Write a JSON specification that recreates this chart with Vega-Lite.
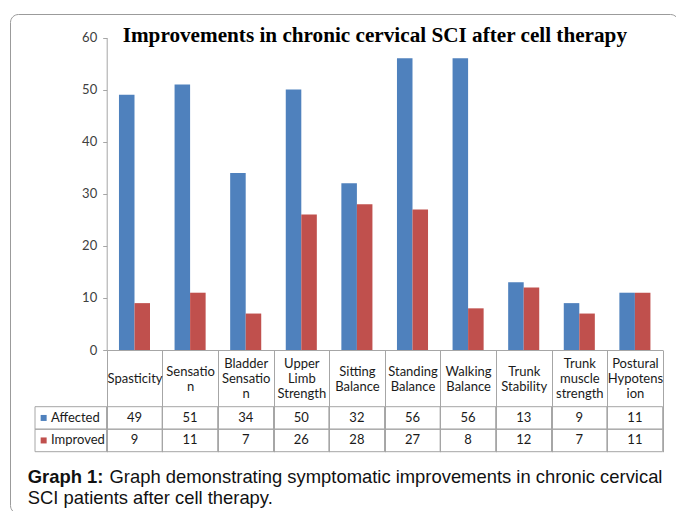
{
  "$schema": "https://vega.github.io/schema/vega-lite/v6.json",
  "width": 668,
  "height": 499,
  "autosize": "none",
  "padding": {"left": 10, "top": 14, "right": -2, "bottom": -2},
  "background": "white",
  "title": {
    "text": "Improvements in chronic cervical SCI after cell therapy",
    "anchor": "start",
    "frame": "group",
    "dx": 112.7,
    "offset": -49.5,
    "font": "Liberation Serif",
    "fontSize": 21.2,
    "fontWeight": "bold",
    "color": "#000000",
    "baseline": "alphabetic"
  },
  "datasets": {
    "bars": [
      {"category": "Spasticity", "series": "Affected", "value": 49},
      {"category": "Spasticity", "series": "Improved", "value": 9},
      {"category": "Sensation", "series": "Affected", "value": 51},
      {"category": "Sensation", "series": "Improved", "value": 11},
      {"category": "Bladder Sensation", "series": "Affected", "value": 34},
      {"category": "Bladder Sensation", "series": "Improved", "value": 7},
      {"category": "Upper Limb Strength", "series": "Affected", "value": 50},
      {"category": "Upper Limb Strength", "series": "Improved", "value": 26},
      {"category": "Sitting Balance", "series": "Affected", "value": 32},
      {"category": "Sitting Balance", "series": "Improved", "value": 28},
      {"category": "Standing Balance", "series": "Affected", "value": 56},
      {"category": "Standing Balance", "series": "Improved", "value": 27},
      {"category": "Walking Balance", "series": "Affected", "value": 56},
      {"category": "Walking Balance", "series": "Improved", "value": 8},
      {"category": "Trunk Stability", "series": "Affected", "value": 13},
      {"category": "Trunk Stability", "series": "Improved", "value": 12},
      {"category": "Trunk muscle strength", "series": "Affected", "value": 9},
      {"category": "Trunk muscle strength", "series": "Improved", "value": 7},
      {"category": "Postural Hypotension", "series": "Affected", "value": 11},
      {"category": "Postural Hypotension", "series": "Improved", "value": 11}
    ],
    "legendRows": [
      {"series": "Affected"},
      {"series": "Improved"}
    ]
  },
  "data": {"name": "bars"},
  "resolve": {"scale": {"x": "independent", "y": "independent"}},
  "config": {
    "view": {"stroke": "#9b9b9b", "strokeWidth": 1, "cornerRadius": 8},
    "axis": {"grid": false}
  },
  "layer": [
    {
      "mark": {"type": "bar"},
      "encoding": {
        "x": {
          "field": "category", "type": "nominal",
          "scale": {"domain": ["Spasticity", "Sensation", "Bladder Sensation", "Upper Limb Strength", "Sitting Balance", "Standing Balance", "Walking Balance", "Trunk Stability", "Trunk muscle strength", "Postural Hypotension"], "range": [96.7, 652.7], "paddingInner": 0, "paddingOuter": 0},
          "axis": {
            "orient": "bottom", "offset": -163,
            "domainColor": "#a6a6a6", "tickColor": "#a6a6a6",
            "tickBand": "extent", "tickSize": 101.7,
            "labelExpr": "datum.value == null ? '' : datum.value == 'Sensation' ? ['Sensatio','n'] : datum.value == 'Bladder Sensation' ? ['Bladder','Sensatio','n'] : datum.value == 'Postural Hypotension' ? ['Postural','Hypotens','ion'] : split(datum.value, ' ')",
            "labelAngle": 0, "labelBaseline": "middle",
            "labelPadding": {
              "condition": [
                {"test": "indexof(['Bladder Sensation','Upper Limb Strength','Trunk muscle strength','Postural Hypotension'], datum.value) >= 0", "value": -88.2},
                {"test": "indexof(['Sensation','Sitting Balance','Standing Balance','Walking Balance','Trunk Stability'], datum.value) >= 0", "value": -80.7}
              ],
              "value": -73.2
            },
            "labelFont": "Lato", "labelFontSize": 13, "labelColor": "#1a1a1a",
            "labelLineHeight": 15, "labelLimit": 300, "labelOverlap": false, "labelFlush": false,
            "title": "Graph 1:", "titleX": 17.3, "titleY": 132.7,
            "titleAlign": "left", "titleBaseline": "alphabetic", "titleAngle": 0,
            "titleFont": "Liberation Sans", "titleFontSize": 18.4, "titleFontWeight": "bold", "titleColor": "#111111"
          }
        },
        "xOffset": {"field": "series", "type": "nominal", "scale": {"domain": ["Affected", "Improved"], "paddingInner": 0, "paddingOuter": 0.79}},
        "y": {
          "field": "value", "type": "quantitative",
          "scale": {"domain": [0, 60], "range": [336, 23.5], "nice": false},
          "axis": {
            "orient": "left", "offset": -96.7, "values": [0, 10, 20, 30, 40, 50, 60],
            "domainColor": "#a6a6a6", "tickColor": "#a6a6a6", "tickSize": 4,
            "labelPadding": 6, "labelFont": "Lato", "labelFontSize": 13, "labelColor": "#404040",
            "title": null
          }
        },
        "color": {"field": "series", "type": "nominal", "scale": {"domain": ["Affected", "Improved"], "range": ["#4F81BD", "#C0504D"]}, "legend": null}
      }
    },
    {
      "mark": {"type": "rect", "fill": "transparent", "stroke": "#a6a6a6", "strokeWidth": 1},
      "encoding": {
        "x": {
          "field": "category", "type": "nominal",
          "scale": {"domain": ["Spasticity", "Sensation", "Bladder Sensation", "Upper Limb Strength", "Sitting Balance", "Standing Balance", "Walking Balance", "Trunk Stability", "Trunk muscle strength", "Postural Hypotension"], "range": [96.7, 652.7], "paddingInner": 0, "paddingOuter": 0},
          "axis": {
            "orient": "bottom", "domain": false, "ticks": false, "labels": false,
            "title": "Graph demonstrating symptomatic improvements in chronic cervical",
            "titleX": 99, "titleY": -30.3, "titleAlign": "left", "titleBaseline": "alphabetic", "titleAngle": 0,
            "titleFont": "Liberation Sans", "titleFontSize": 18.4, "titleFontWeight": "normal", "titleColor": "#111111"
          }
        },
        "y": {"field": "series", "type": "nominal", "scale": {"type": "band", "domain": ["Affected", "Improved"], "range": [392.7, 437.7], "paddingInner": 0, "paddingOuter": 0}, "axis": null}
      }
    },
    {
      "mark": {"type": "text", "font": "Lato", "fontSize": 13, "color": "#1a1a1a", "baseline": "middle", "align": "center"},
      "encoding": {
        "x": {
          "field": "category", "type": "nominal",
          "scale": {"domain": ["Spasticity", "Sensation", "Bladder Sensation", "Upper Limb Strength", "Sitting Balance", "Standing Balance", "Walking Balance", "Trunk Stability", "Trunk muscle strength", "Postural Hypotension"], "range": [96.7, 652.7], "paddingInner": 0, "paddingOuter": 0},
          "axis": null
        },
        "y": {"field": "series", "type": "nominal", "scale": {"type": "band", "domain": ["Affected", "Improved"], "range": [392.7, 437.7], "paddingInner": 0, "paddingOuter": 0}, "axis": null},
        "text": {"field": "value", "type": "quantitative"}
      }
    },
    {
      "data": {"name": "legendRows"},
      "mark": {"type": "rect", "fill": "transparent", "stroke": "#a6a6a6", "strokeWidth": 1},
      "encoding": {
        "x": {
          "datum": "legend", "type": "nominal",
          "scale": {"type": "band", "domain": ["legend"], "range": [25, 96.7], "paddingInner": 0, "paddingOuter": 0},
          "axis": {
            "orient": "bottom", "domain": false, "ticks": false, "labels": false,
            "title": "SCI patients after cell therapy.",
            "titleX": 17.3, "titleY": -10, "titleAlign": "left", "titleBaseline": "alphabetic", "titleAngle": 0,
            "titleFont": "Liberation Sans", "titleFontSize": 18.4, "titleFontWeight": "normal", "titleColor": "#111111"
          }
        },
        "y": {"field": "series", "type": "nominal", "scale": {"type": "band", "domain": ["Affected", "Improved"], "range": [392.7, 437.7], "paddingInner": 0, "paddingOuter": 0}, "axis": null}
      }
    },
    {
      "data": {"name": "legendRows"},
      "mark": {"type": "point", "shape": "square", "filled": true, "opacity": 1, "size": 36, "xOffset": -27.2},
      "encoding": {
        "x": {"datum": "legend", "type": "nominal", "scale": {"type": "band", "domain": ["legend"], "range": [25, 96.7], "paddingInner": 0, "paddingOuter": 0}, "axis": null},
        "y": {"field": "series", "type": "nominal", "scale": {"type": "band", "domain": ["Affected", "Improved"], "range": [392.7, 437.7], "paddingInner": 0, "paddingOuter": 0}, "axis": null},
        "color": {"field": "series", "type": "nominal", "scale": {"domain": ["Affected", "Improved"], "range": ["#4F81BD", "#C0504D"]}, "legend": null}
      }
    },
    {
      "data": {"name": "legendRows"},
      "mark": {"type": "text", "font": "Lato", "fontSize": 13, "color": "#1a1a1a", "baseline": "middle", "align": "left", "dx": -19.9},
      "encoding": {
        "x": {"datum": "legend", "type": "nominal", "scale": {"type": "band", "domain": ["legend"], "range": [25, 96.7], "paddingInner": 0, "paddingOuter": 0}, "axis": null},
        "y": {"field": "series", "type": "nominal", "scale": {"type": "band", "domain": ["Affected", "Improved"], "range": [392.7, 437.7], "paddingInner": 0, "paddingOuter": 0}, "axis": null},
        "text": {"field": "series", "type": "nominal"}
      }
    }
  ]
}
